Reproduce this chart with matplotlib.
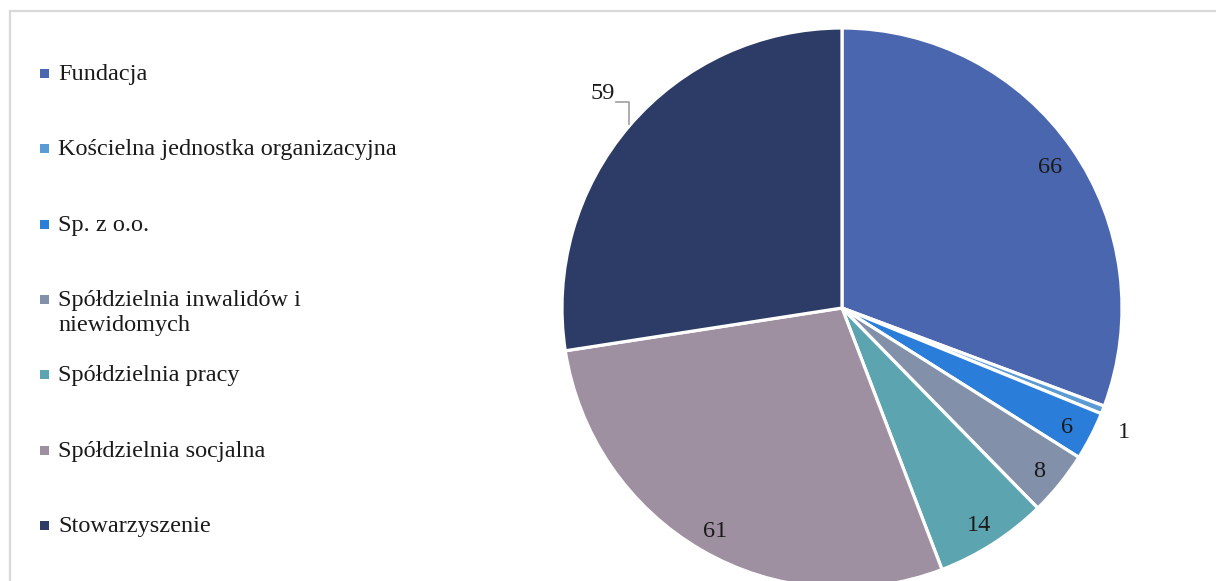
import matplotlib.pyplot as plt
import matplotlib.patches as mpatches
import numpy as np

# form prawna -> liczba podmiotow
categories = ["Fundacja", "Kościelna jednostka organizacyjna", "Sp. z o.o.",
              "Spółdzielnia inwalidów i\nniewidomych", "Spółdzielnia pracy",
              "Spółdzielnia socjalna", "Stowarzyszenie"]
values = [66, 1, 6, 8, 14, 61, 59]
colors = ["#4A66AE", "#5B9BD5", "#2A7DD9", "#8291A9", "#5BA4B0", "#9E90A0", "#2D3C66"]

plt.rcParams['font.family'] = ['Liberation Serif', 'DejaVu Serif']

W, H = 1216, 581
fig = plt.figure(figsize=(W / 100, H / 100), dpi=100)
ax = fig.add_axes([0, 0, 1, 1])

cx, cy, R = 842, H - 308, 280
wedges, _ = ax.pie(values, colors=colors, startangle=90, counterclock=False,
                   center=(cx, cy), radius=R,
                   wedgeprops=dict(edgecolor="white", linewidth=2.3))
ax.set_xlim(0, W)
ax.set_ylim(0, H)
ax.set_aspect("equal")
ax.axis("off")

# frame around the chart area
ax.add_patch(mpatches.Rectangle((10, -30), W + 40, H - 11 + 30, fill=False,
                                edgecolor="#d9d9d9", linewidth=1.6, clip_on=False))

txt = "#1a1a1a"
fs = 17.5
for w, v in zip(wedges, values):
    ang = np.deg2rad((w.theta1 + w.theta2) / 2)
    if v == 1:
        d = 1.08
        ax.text(cx + d * R * np.cos(ang), cy + d * R * np.sin(ang) - 14, str(v),
                ha="center", va="center", fontsize=fs, color=txt)
    elif v == 59:
        ex, ey = cx + R * np.cos(ang), cy + R * np.sin(ang)
        ky = ey + 24
        ax.plot([ex - 13, ex, ex], [ky, ky, ey + 2], color="#a6a6a6", lw=1.3)
        ax.text(ex - 15, ky + 8, str(v), ha="right", va="center", fontsize=fs, color=txt)
    else:
        d = 0.905
        ax.text(cx + d * R * np.cos(ang), cy + d * R * np.sin(ang) - 4, str(v),
                ha="center", va="center", fontsize=fs, color=txt)

# legend
for i, (lab, col) in enumerate(zip(categories, colors)):
    y = H - 73 - i * 75.3
    ax.add_patch(mpatches.Rectangle((40, y - 5), 9, 9, facecolor=col, edgecolor="none"))
    ax.text(58, y + 9, lab, ha="left", va="top", fontsize=fs, color=txt, linespacing=1.25)

fig.savefig("out.png", dpi=100)
